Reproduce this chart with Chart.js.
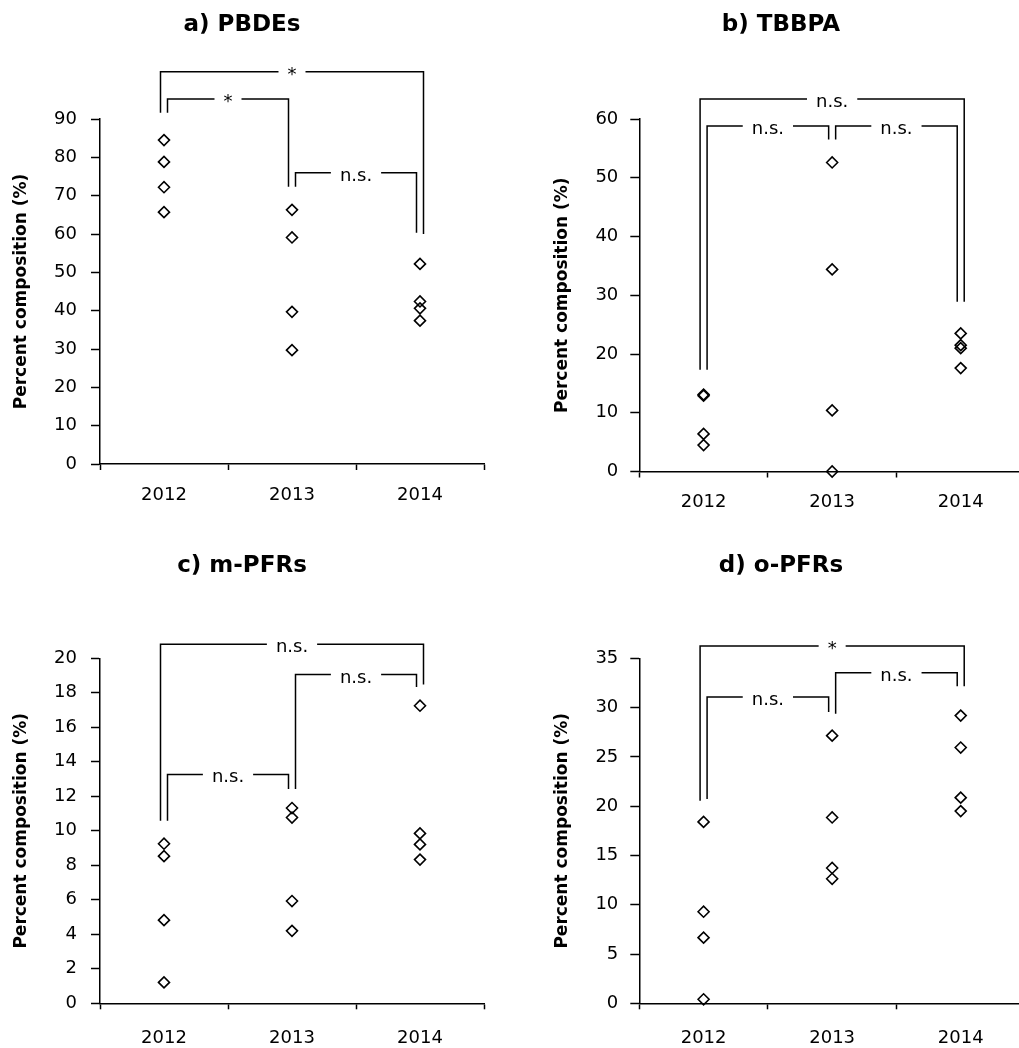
<!DOCTYPE html>
<html>
<head>
<meta charset="utf-8">
<title>Percent composition by year</title>
<script src="https://cdn.jsdelivr.net/npm/chart.js@4/dist/chart.umd.min.js"></script>
<style>
  html, body { margin: 0; padding: 0; background: #fff; width: 1019px; height: 1048px; overflow: hidden; }
  canvas { position: absolute; }
</style>
</head>
<body>
<canvas id="chartA" width="500" height="520" style="left:0;top:0"></canvas>
<canvas id="chartB" width="540" height="520" style="left:500px;top:0"></canvas>
<canvas id="chartC" width="500" height="528" style="left:0;top:520px"></canvas>
<canvas id="chartD" width="540" height="528" style="left:500px;top:520px"></canvas>
<script>
// Années (catégories)
const years = ['2012', '2013', '2014'];

// Valeurs par année (4 échantillons chacune)
const pbdes = [[84.5, 78.8, 72.2, 65.7], [66.3, 59.1, 39.7, 29.7], [52.2, 42.4, 40.6, 37.4]];
const tbbpa = [[13.1, 12.9, 6.4, 4.5], [52.6, 34.4, 10.4, 0.0], [23.5, 21.5, 21.0, 17.6]];
const mPfrs = [[9.25, 8.53, 4.82, 1.21], [11.32, 10.77, 5.93, 4.2], [17.25, 9.85, 9.21, 8.33]];
const oPfrs = [[18.4, 9.29, 6.66, 0.41], [27.15, 18.85, 13.73, 12.63], [29.19, 25.95, 20.86, 19.5]];

// Axes Y : max et pas
const yMaxA = 90, yStepA = 10;
const yMaxB = 60, yStepB = 10;
const yMaxC = 20, yStepC = 2;
const yMaxD = 35, yStepD = 5;

// Crochets de significativité : [de, à, hauteur, pied gauche, pied droit, texte, côté g, côté d]
const bracketsA = [[0, 2, 102.3, 91.6, 60.0, '*', -1, 1], [0, 1, 95.2, 91.6, 72.3, '*', 1, -1], [1, 2, 76.0, 72.3, 60.3, 'n.s.', 1, -1]];
const bracketsB = [[0, 2, 63.4, 17.3, 28.9, 'n.s.', -1, 1], [0, 1, 58.8, 17.3, 56.5, 'n.s.', 1, -1], [1, 2, 58.8, 56.5, 28.9, 'n.s.', 1, -1]];
const bracketsC = [[0, 2, 20.82, 10.58, 18.48, 'n.s.', -1, 1], [0, 1, 13.27, 10.58, 12.43, 'n.s.', 1, -1], [1, 2, 19.06, 12.43, 18.34, 'n.s.', 1, -1]];
const bracketsD = [[0, 2, 36.26, 20.56, 32.17, '*', -1, 1], [0, 1, 31.07, 20.73, 29.54, 'n.s.', 1, -1], [1, 2, 33.53, 29.37, 32.17, 'n.s.', 1, -1]];

Chart.defaults.font.family = "'DejaVu Sans', sans-serif";
Chart.defaults.color = '#000';

// Dessine les crochets au-dessus des points
function bracketPlugin(list) {
  return {
    id: 'brackets',
    afterDatasetsDraw(chart) {
      const { ctx, scales: { x, y } } = chart;
      ctx.save();
      ctx.strokeStyle = '#000';
      ctx.fillStyle = '#000';
      ctx.lineWidth = 1.5;
      ctx.font = "18px 'DejaVu Sans', sans-serif";
      ctx.textAlign = 'center';
      ctx.textBaseline = 'alphabetic';
      list.forEach(([from, to, top, footL, footR, label, sL, sR]) => {
        const x0 = x.getPixelForValue(from) + sL * 3.5;
        const x1 = x.getPixelForValue(to) + sR * 3.5;
        const yt = y.getPixelForValue(top);
        const mid = (x0 + x1) / 2;
        const half = ctx.measureText(label).width / 2 + 9;
        ctx.beginPath();
        ctx.moveTo(x0, y.getPixelForValue(footL));
        ctx.lineTo(x0, yt);
        ctx.lineTo(mid - half, yt);
        ctx.moveTo(mid + half, yt);
        ctx.lineTo(x1, yt);
        ctx.lineTo(x1, y.getPixelForValue(footR));
        ctx.stroke();
        ctx.fillText(label, mid, yt + 8);
      });
      ctx.restore();
    }
  };
}

function makePanel(id, title, values, yMax, yStep, brackets, lay) {
  const points = years.flatMap((yr, i) => values[i].map(v => ({ x: yr, y: v })));
  return new Chart(document.getElementById(id), {
    type: 'scatter',
    data: {
      labels: years,
      datasets: [{
        data: points,
        pointStyle: 'rectRot',
        pointRadius: 5.5,
        pointHoverRadius: 5.5,
        pointBorderWidth: 1.6,
        pointBorderColor: '#000',
        pointBackgroundColor: 'rgba(0,0,0,0)',
        clip: false
      }]
    },
    options: {
      responsive: false,
      animation: false,
      events: [],
      layout: { padding: { left: lay.padL, right: lay.padR, top: 0, bottom: 0 } },
      plugins: {
        legend: { display: false },
        tooltip: { enabled: false },
        title: {
          display: true,
          text: title,
          color: '#000',
          font: { size: 23, weight: 'bold', lineHeight: 1.2 },
          padding: { top: lay.titleTop, bottom: lay.titleBottom }
        }
      },
      scales: {
        x: {
          type: 'category',
          labels: years,
          offset: true,
          grid: { offset: true, drawOnChartArea: false, tickLength: 6, tickWidth: 1.5, tickColor: '#000' },
          border: { color: '#000', width: 1.5 },
          ticks: { color: '#000', padding: lay.xPad, font: { size: 18, lineHeight: 1.2 } },
          afterFit: s => { s.height = lay.xH; }
        },
        y: {
          min: 0,
          max: yMax,
          ticks: { stepSize: yStep, color: '#000', padding: lay.yPad, font: { size: 18 } },
          grid: { drawOnChartArea: false, tickLength: 9, tickWidth: 1.5, tickColor: '#000' },
          border: { color: '#000', width: 1.5 },
          title: {
            display: true,
            text: 'Percent composition (%)',
            color: '#000',
            font: { size: 17, weight: 'bold', lineHeight: 1.2 },
            padding: { top: lay.yTitle, bottom: 0 }
          },
          afterFit: s => { s.width = lay.yW; }
        }
      }
    },
    plugins: [bracketPlugin(brackets)]
  });
}

const layLeftTop = { padL: 0, padR: 16, yW: 100, xH: 56, titleTop: 11.2, titleBottom: 80.2, xPad: 14.7, yPad: 14, yTitle: 11.8 };
const layRightTop = { padL: 37, padR: 15, yW: 102.3, xH: 48.5, titleTop: 11.2, titleBottom: 80.2, xPad: 14.2, yPad: 12, yTitle: 15.8 };
const layLeftBot = { padL: 0, padR: 16, yW: 100, xH: 44.7, titleTop: 32.2, titleBottom: 78.5, xPad: 18.2, yPad: 14, yTitle: 11.8 };
const layRightBot = { padL: 37, padR: 15, yW: 102.3, xH: 44.7, titleTop: 32.2, titleBottom: 78.5, xPad: 18.2, yPad: 12, yTitle: 15.8 };

makePanel('chartA', 'a) PBDEs', pbdes, yMaxA, yStepA, bracketsA, layLeftTop);
makePanel('chartB', 'b) TBBPA', tbbpa, yMaxB, yStepB, bracketsB, layRightTop);
makePanel('chartC', 'c) m-PFRs', mPfrs, yMaxC, yStepC, bracketsC, layLeftBot);
makePanel('chartD', 'd) o-PFRs', oPfrs, yMaxD, yStepD, bracketsD, layRightBot);
</script>
</body>
</html>
